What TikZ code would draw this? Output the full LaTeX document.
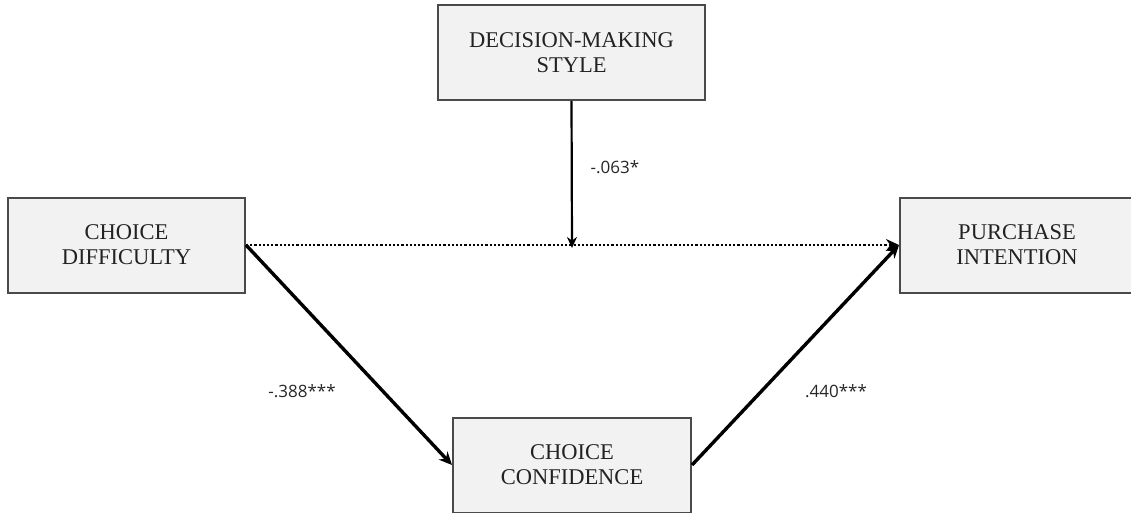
\documentclass[tikz,border=0pt]{standalone}
\usepackage{fontspec}
\setmainfont{Liberation Serif}
\newfontfamily\labelfont{Open Sans}
\usetikzlibrary{arrows.meta}
\definecolor{boxfill}{HTML}{F2F2F2}
\definecolor{boxline}{HTML}{4A4A4A}
\definecolor{boxtext}{HTML}{222222}
\tikzset{
  var/.style={draw=boxline, line width=2pt, fill=boxfill, rectangle,
    minimum height=95pt, align=center, inner sep=0pt, text=boxtext,
    font=\fontsize{22.5}{25}\selectfont},
  coef/.style={font=\labelfont\fontsize{17}{20}\selectfont, text=black!85, inner sep=0pt},
  path/.style={line width=3.4pt, -{Stealth[length=13pt,width=12pt]}},
  moderator/.style={line width=2.2pt, -{Stealth[length=11pt,width=10pt]}},
  direct/.style={line width=2.2pt, dotted, -{Stealth[length=13pt,width=12pt]}}
}
\begin{document}
\begin{tikzpicture}[x=1pt,y=-1pt]
\useasboundingbox (0,0) rectangle (1131,512);
% variables
\node[var, minimum width=267pt] (dms) at (571.5,52.5) {DECISION-MAKING\\STYLE};
\node[var, minimum width=237pt] (cd) at (126.5,245) {CHOICE\\DIFFICULTY};
\node[var, minimum width=234pt] (pi) at (1017,245) {PURCHASE\\INTENTION};
\node[var, minimum width=238pt] (cc) at (572,465) {CHOICE\\CONFIDENCE};
% paths
\draw[direct] (cd.east) -- (pi.west);
\coordinate (mod) at (572,245);
\draw[moderator] (dms.south) -- ([yshift=-3pt]mod);
\draw[path] (cd.east) -- (cc.west);
\draw[path] (cc.east) -- (pi.west);
% coefficients
\node[coef, anchor=base] (c1) at (615,173) {-.063*};
\node[coef, anchor=base] (c2) at (302,397) {-.388***};
\node[coef, anchor=base] (c3) at (836,397) {.440***};
\end{tikzpicture}
\end{document}
